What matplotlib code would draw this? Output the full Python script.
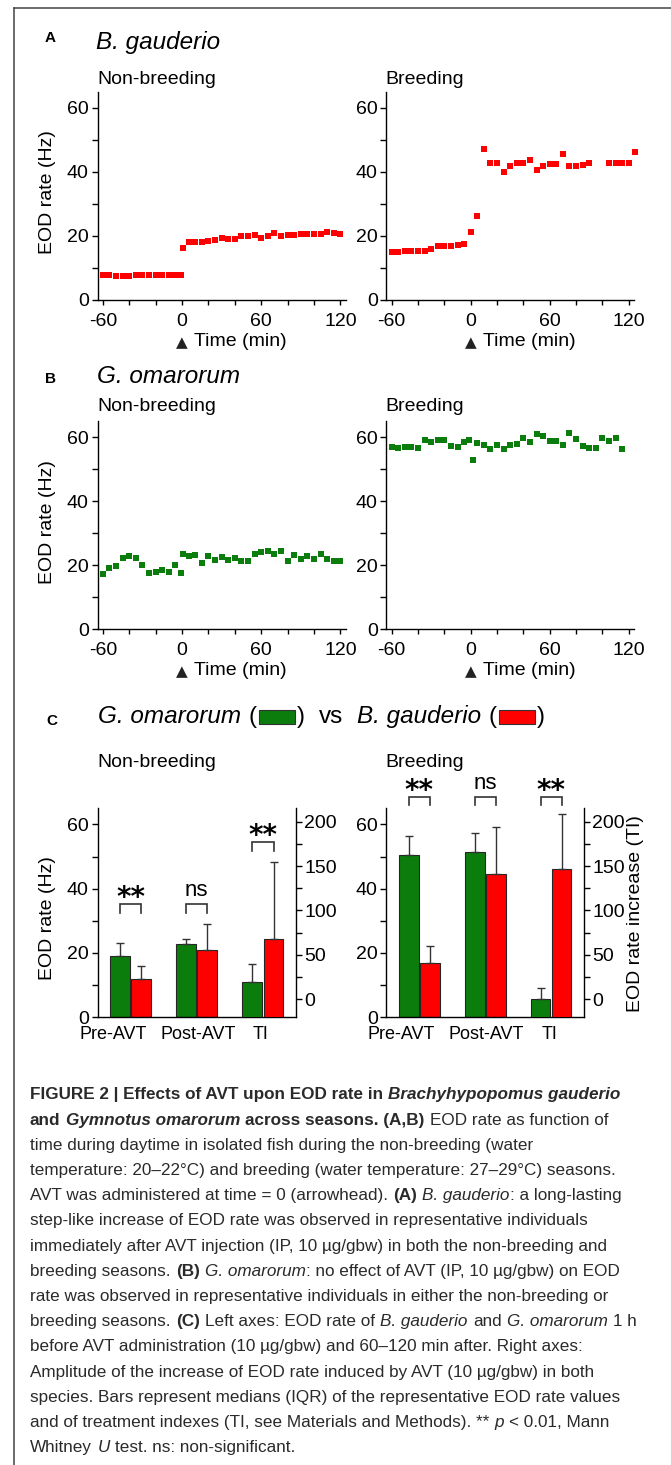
import matplotlib
matplotlib.use('Agg')
import matplotlib.pyplot as plt
import matplotlib.transforms as mtransforms
from matplotlib.patches import Rectangle
from matplotlib.lines import Line2D
from matplotlib.ticker import MultipleLocator

plt.rcParams['font.family'] = ['Liberation Sans', 'DejaVu Sans']
plt.rcParams['font.size'] = 14
plt.rcParams['axes.unicode_minus'] = False

# ---- data ----
# (A) B. gauderio, EOD rate (Hz) vs time (min)
bg_nb_time = [-60, -55, -50, -45, -40, -35, -30, -25, -20, -15, -10, -5, -1,
              1, 5, 10, 15, 20, 25, 30, 35, 40, 45, 50, 55, 60, 65, 70, 75,
              80, 85, 90, 95, 100, 105, 110, 115, 120]
bg_nb_rate = [7.8, 7.8, 7.6, 7.6, 7.5, 7.8, 7.8, 7.7, 7.7, 7.7, 7.7, 7.8, 7.8,
              16.3, 18.0, 18.0, 18.1, 18.5, 18.8, 19.2, 19.0, 19.0, 20.1, 19.9,
              20.2, 19.5, 20.1, 20.8, 20.0, 20.4, 20.3, 20.5, 20.6, 20.6, 20.6,
              21.3, 20.8, 20.6]
bg_b_time = [-60, -55, -50, -45, -40, -35, -30, -25, -20, -15, -10, -5, 0, 5,
             10, 15, 20, 25, 30, 35, 40, 45, 50, 55, 60, 65, 70, 75, 80, 85, 90,
             105, 110, 115, 120, 125]
bg_b_rate = [14.9, 15.1, 15.4, 15.4, 15.4, 15.3, 16.0, 16.9, 17.0, 16.9, 17.3,
             17.4, 21.3, 26.3, 47.1, 42.8, 42.8, 39.8, 41.9, 42.9, 42.6, 43.7,
             40.6, 41.7, 42.5, 42.3, 45.6, 41.7, 41.9, 42.1, 42.6, 42.9, 42.8,
             42.6, 42.6, 46.1]

# (B) G. omarorum
go_nb_time = list(bg_nb_time)
go_nb_rate = [17.4, 19.0, 19.8, 22.3, 22.9, 22.2, 20.2, 17.6, 17.9, 18.5, 17.8,
              20.0, 17.6, 23.5, 22.9, 23.1, 20.8, 23.0, 21.6, 22.6, 21.7, 22.4,
              21.3, 21.3, 23.6, 24.0, 24.5, 23.5, 24.4, 21.3, 23.1, 21.8, 22.9,
              21.9, 23.6, 21.9, 21.4, 21.4]
go_b_time = [-60, -55, -50, -45, -40, -35, -30, -25, -20, -15, -10, -5, -1, 2,
             5, 10, 15, 20, 25, 30, 35, 40, 45, 50, 55, 60, 65, 70, 75, 80, 85,
             90, 95, 100, 105, 110, 115]
go_b_rate = [57.0, 56.7, 56.9, 56.9, 56.7, 59.2, 58.5, 59.2, 59.0, 57.3, 56.9,
             58.4, 59.2, 52.8, 58.2, 57.4, 56.3, 57.5, 56.4, 57.6, 57.7, 59.8,
             58.3, 60.8, 60.3, 58.8, 58.7, 57.6, 61.1, 59.5, 57.3, 56.7, 56.7,
             59.6, 58.8, 59.8, 56.3]

# (C) medians and upper IQR limits; Pre/Post in Hz (left axis), TI on right axis
bar_groups = ['Pre-AVT', 'Post-AVT', 'TI']
nb_go_hz, nb_go_hz_hi = [19.0, 22.9], [23.0, 24.2]
nb_bg_hz, nb_bg_hz_hi = [11.8, 20.8], [16.0, 29.0]
nb_go_ti, nb_go_ti_hi = 19.5, 39.8
nb_bg_ti, nb_bg_ti_hi = 68.2, 154.0
b_go_hz, b_go_hz_hi = [50.6, 51.5], [56.4, 57.3]
b_bg_hz, b_bg_hz_hi = [17.0, 44.5], [22.1, 59.2]
b_go_ti, b_go_ti_hi = 0.0, 12.4
b_bg_ti, b_bg_ti_hi = 147.0, 209.0
nb_signif = ['**', 'ns', '**']
b_signif = ['**', 'ns', '**']

GREEN = '#0b7d0d'
RED = '#ff0000'
DARK = '#222222'

W, H = 671, 1465
fig = plt.figure(figsize=(W / 100, H / 100), dpi=100)
renderer = fig.canvas.get_renderer()


def fx_(x):
    return x / W


def fy_(y):
    return 1 - y / H


def rect(x0, y0, x1, y1):
    return [x0 / W, 1 - y1 / H, (x1 - x0) / W, (y1 - y0) / H]


def ftext(x, y, s, **kw):
    return fig.text(x / W, 1 - y / H, s, **kw)


def text_width(s, **kw):
    t = fig.text(0, 0, s, **kw)
    w = t.get_window_extent(renderer).width
    t.remove()
    return w


STYLES = {'r': {}, 'b': {'fontweight': 'bold'}, 'i': {'fontstyle': 'italic'},
          'bi': {'fontweight': 'bold', 'fontstyle': 'italic'}}


def draw_runs(x, y, runs, **base):
    """write styled runs one after the other on a baseline (pixel coords)"""
    for s, st in runs:
        if st == 'box':
            fig.add_artist(Rectangle((fx_(x + 2), fy_(y + 0.5)), 36 / W, 14 / H,
                                     transform=fig.transFigure, facecolor=s,
                                     edgecolor='#333333', lw=0.8))
            x += 40
            continue
        kw = dict(base)
        kw.update(STYLES[st])
        sp = text_width('a a', **kw) - text_width('aa', **kw)
        core = s.strip(' ')
        if not core:
            x += len(s) * sp
            continue
        lead = len(s) - len(s.lstrip(' '))
        trail = len(s) - len(s.rstrip(' '))
        x += lead * sp
        t = ftext(x, y, core, va='baseline', ha='left', **kw)
        x += t.get_window_extent(renderer).width + 0.5
        x += trail * sp
    return x


def style_time_axes(ax):
    ax.set_xlim(-64, 124)
    ax.set_ylim(0, 65)
    for side in ['top', 'right']:
        ax.spines[side].set_visible(False)
    for side in ['left', 'bottom']:
        ax.spines[side].set_linewidth(1.0)
    ax.xaxis.set_major_locator(MultipleLocator(60))
    ax.xaxis.set_minor_locator(MultipleLocator(20))
    ax.yaxis.set_major_locator(MultipleLocator(20))
    ax.yaxis.set_minor_locator(MultipleLocator(10))
    ax.tick_params(axis='x', which='both', direction='out', length=3.6, width=1, pad=5.5)
    ax.tick_params(axis='y', which='both', direction='out', length=4.3, width=1, pad=2)
    ax.tick_params(labelsize=14)
    trans = mtransforms.blended_transform_factory(ax.transData, ax.transAxes)
    ax.annotate('▲', xy=(0, 0), xycoords=trans, xytext=(0, -30.5),
                textcoords='offset points', ha='center', va='center',
                fontsize=11, family='DejaVu Sans', color=DARK)
    ax.annotate('Time (min)', xy=(9, 0), xycoords=trans, xytext=(0, -30),
                textcoords='offset points', ha='left', va='center', fontsize=14)


def time_panel(box, t, v, color):
    ax = fig.add_axes(rect(*box))
    ax.plot(t, v, 's', color=color, markersize=3.8, markeredgewidth=0, clip_on=False)
    style_time_axes(ax)
    return ax


# frame
fig.add_artist(Line2D([13.5 / W, 1.0], [fy_(8), fy_(8)], transform=fig.transFigure,
                      color='#444444', lw=1.1))
fig.add_artist(Line2D([13.5 / W, 13.5 / W], [fy_(8), 0], transform=fig.transFigure,
                      color='#444444', lw=1.1))

# ---- panel A ----
ftext(45, 42.3, 'A', fontsize=11, fontweight='bold', va='baseline')
ftext(96, 49.3, 'B. gauderio', fontsize=17.5, fontstyle='italic', va='baseline')
ftext(97.5, 83.7, 'Non-breeding', fontsize=14, va='baseline')
ftext(385, 83.7, 'Breeding', fontsize=14, va='baseline')
time_panel((97.5, 91.7, 345.7, 300), bg_nb_time, bg_nb_rate, RED)
time_panel((386.4, 91.7, 634, 300), bg_b_time, bg_b_rate, RED)
ftext(48, 192, 'EOD rate (Hz)', fontsize=14, rotation=90, ha='center', va='center')

# ---- panel B ----
ftext(45, 383.3, 'B', fontsize=11, fontweight='bold', va='baseline')
ftext(97, 383.3, 'G. omarorum', fontsize=17.5, fontstyle='italic', va='baseline')
ftext(97.5, 410.7, 'Non-breeding', fontsize=14, va='baseline')
ftext(385, 410.7, 'Breeding', fontsize=14, va='baseline')
time_panel((97.5, 421, 345.7, 629.3), go_nb_time, go_nb_rate, GREEN)
time_panel((386.4, 421, 634, 629.3), go_b_time, go_b_rate, GREEN)
ftext(48, 522, 'EOD rate (Hz)', fontsize=14, rotation=90, ha='center', va='center')

# ---- panel C ----
ftext(46, 725, 'C', fontsize=11, fontweight='bold', va='baseline')
draw_runs(98, 723.3, [('G. omarorum', 'i'), (' (', 'r'), (GREEN, 'box'), (')', 'r'),
                      ('  vs  ', 'r'), ('B. gauderio', 'i'), (' (', 'r'), (RED, 'box'),
                      (')', 'r')], fontsize=17.5)
ftext(97.5, 767.3, 'Non-breeding', fontsize=14, va='baseline')
ftext(385, 767.3, 'Breeding', fontsize=14, va='baseline')

OFF, BW = 0.16, 0.30
TI_LIM = (-20.3, 215)
LABEL_POS = [-0.27, 1.02, 1.97]   # tick labels sit a bit off the group centres


def bracket(ax, xc, top, drop, label):
    x0, x1 = xc - OFF, xc + OFF
    ax.plot([x0, x0, x1, x1], [top - drop, top, top, top - drop], color='#333333',
            lw=1.2, clip_on=False, solid_joinstyle='miter')
    if label == 'ns':
        ax.annotate('ns', xy=(xc, top), xytext=(0, 5.5), textcoords='offset points',
                    ha='center', va='baseline', fontsize=16, annotation_clip=False)
    else:
        ax.annotate(label, xy=(xc, top), xytext=(0, -1.6), textcoords='offset points',
                    ha='center', va='baseline', fontsize=20, fontweight='bold',
                    family='DejaVu Sans', annotation_clip=False)


def bar_panel(box, go_hz, go_hi, bg_hz, bg_hi, go_ti, go_ti_hi, bg_ti, bg_ti_hi):
    ax = fig.add_axes(rect(*box))
    ax2 = ax.twinx()
    x = [0, 1]
    bar_kw = dict(width=BW, edgecolor='#262626', linewidth=0.8)
    err_kw = dict(ecolor='#333333', elinewidth=1.0, capsize=2.6, capthick=1.0)
    ax.bar([i - OFF for i in x], go_hz, color=GREEN,
           yerr=[[0, 0], [h - v for h, v in zip(go_hi, go_hz)]], error_kw=err_kw, **bar_kw)
    ax.bar([i + OFF for i in x], bg_hz, color=RED,
           yerr=[[0, 0], [h - v for h, v in zip(bg_hi, bg_hz)]], error_kw=err_kw, **bar_kw)
    ax2.bar([2 - OFF], [go_ti - TI_LIM[0]], bottom=TI_LIM[0], color=GREEN,
            yerr=[[0], [go_ti_hi - go_ti]], error_kw=err_kw, **bar_kw)
    ax2.bar([2 + OFF], [bg_ti - TI_LIM[0]], bottom=TI_LIM[0], color=RED,
            yerr=[[0], [bg_ti_hi - bg_ti]], error_kw=err_kw, **bar_kw)
    ax.set_xlim(-0.5, 2.5)
    ax.set_ylim(0, 65)
    ax2.set_ylim(*TI_LIM)
    ax.set_xticks(LABEL_POS)
    ax.set_xticklabels(bar_groups)
    ax.tick_params(axis='x', length=0, pad=6.5, labelsize=13)
    ax.yaxis.set_major_locator(MultipleLocator(20))
    ax.yaxis.set_minor_locator(MultipleLocator(10))
    ax.tick_params(axis='y', which='both', direction='out', length=4.3, width=1,
                   pad=2, labelsize=14)
    ax2.yaxis.set_major_locator(MultipleLocator(50))
    ax2.yaxis.set_minor_locator(MultipleLocator(25))
    ax2.tick_params(axis='y', which='both', direction='out', length=4.3, width=1,
                    pad=1.5, labelsize=14)
    for a in (ax, ax2):
        a.spines['top'].set_visible(False)
        for side in ['left', 'right', 'bottom']:
            a.spines[side].set_linewidth(1.0)
    ax.spines['right'].set_visible(False)
    ax2.spines['left'].set_visible(False)
    ax2.spines['bottom'].set_visible(False)
    ax.patch.set_visible(False)
    ax2.patch.set_visible(False)
    return ax, ax2


axc1, axc1r = bar_panel((97.5, 808.3, 296, 1017.3), nb_go_hz, nb_go_hz_hi, nb_bg_hz,
                        nb_bg_hz_hi, nb_go_ti, nb_go_ti_hi, nb_bg_ti, nb_bg_ti_hi)
bracket(axc1, 0, 35.2, 2.9, nb_signif[0])
bracket(axc1, 1, 35.2, 2.9, nb_signif[1])
bracket(axc1r, 2, 177.5, 10.5, nb_signif[2])

axc2, axc2r = bar_panel((386.4, 808.3, 584, 1017.3), b_go_hz, b_go_hz_hi, b_bg_hz,
                        b_bg_hz_hi, b_go_ti, b_go_ti_hi, b_bg_ti, b_bg_ti_hi)
for i, lab in enumerate(b_signif):
    bracket(axc2, i, 68.5, 2.6, lab)

ftext(48, 918, 'EOD rate (Hz)', fontsize=14, rotation=90, ha='center', va='center')
ftext(636, 914, 'EOD rate increase (TI)', fontsize=14, rotation=90, ha='center',
      va='center')

# ---- caption ----
caption = [
    [('FIGURE 2 | Effects of AVT upon EOD rate in ', 'b'), ('Brachyhypopomus gauderio', 'bi')],
    [('and ', 'b'), ('Gymnotus omarorum', 'bi'), (' across seasons. (A,B)', 'b'),
     (' EOD rate as function of', 'r')],
    [('time during daytime in isolated fish during the non-breeding (water', 'r')],
    [('temperature: 20–22°C) and breeding (water temperature: 27–29°C) seasons.', 'r')],
    [('AVT was administered at time = 0 (arrowhead). ', 'r'), ('(A)', 'b'), (' ', 'r'),
     ('B. gauderio', 'i'), (': a long-lasting', 'r')],
    [('step-like increase of EOD rate was observed in representative individuals', 'r')],
    [('immediately after AVT injection (IP, 10 µg/gbw) in both the non-breeding and', 'r')],
    [('breeding seasons. ', 'r'), ('(B)', 'b'), (' ', 'r'), ('G. omarorum', 'i'),
     (': no effect of AVT (IP, 10 µg/gbw) on EOD', 'r')],
    [('rate was observed in representative individuals in either the non-breeding or', 'r')],
    [('breeding seasons. ', 'r'), ('(C)', 'b'), (' Left axes: EOD rate of ', 'r'),
     ('B. gauderio', 'i'), (' and ', 'r'), ('G. omarorum', 'i'), (' 1 h', 'r')],
    [('before AVT administration (10 µg/gbw) and 60–120 min after. Right axes:', 'r')],
    [('Amplitude of the increase of EOD rate induced by AVT (10 µg/gbw) in both', 'r')],
    [('species. Bars represent medians (IQR) of the representative EOD rate values', 'r')],
    [('and of treatment indexes (TI, see Materials and Methods). ** ', 'r'), ('p', 'i'),
     (' < 0.01, Mann', 'r')],
    [('Whitney ', 'r'), ('U', 'i'), (' test. ns: non-significant.', 'r')],
]
for i, line in enumerate(caption):
    draw_runs(30, 1099.5 + 25.2 * i, line, fontsize=12.3, color='#2a2a2a')

fig.savefig('out.png', dpi=100)
